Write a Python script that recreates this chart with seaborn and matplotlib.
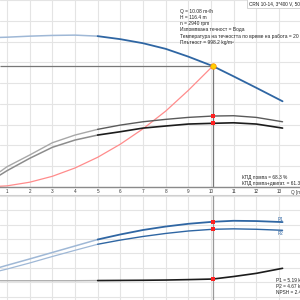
import matplotlib
matplotlib.use("Agg")
from matplotlib import pyplot as plt
import seaborn as sns
import pandas as pd

# flow points [m3/h] shared by all pump curves
q = [0.69, 1, 2, 3, 4, 5, 6, 7, 8, 9, 10.08, 11, 12, 13.16]
head = [144.0, 144.2, 145.2, 145.9, 146.2, 145.2, 142.3, 138.4, 133.0, 125.5, 116.4, 106.5, 95.5, 82.5]
eta_pump = [14.7, 19.5, 30.8, 42.6, 50.0, 55.5, 59.6, 62.8, 65.1, 67.0, 68.3, 68.6, 67.0, 62.8]
eta_total = [11.5, 15.7, 27.6, 38.2, 45.2, 50.0, 53.2, 56.7, 58.7, 60.6, 61.3, 61.8, 60.6, 56.7]
p1 = [2.03, 2.17, 2.61, 3.06, 3.51, 3.96, 4.31, 4.62, 4.86, 5.05, 5.19, 5.26, 5.24, 5.17]
p2 = [1.79, 1.91, 2.33, 2.78, 3.21, 3.63, 3.92, 4.17, 4.38, 4.55, 4.67, 4.70, 4.67, 4.60]
npsh = [2.2, 2.2, 2.2, 2.2, 2.2, 2.22, 2.24, 2.26, 2.29, 2.35, 2.43, 2.78, 3.22, 3.92]

# system curve
q_sys = [0, 1, 2, 3, 4, 5, 6, 7, 8, 9, 10.08]
h_sys = [0, 1.1, 4.6, 10.3, 18.3, 28.6, 41.2, 56.0, 73.0, 93.0, 116.4]

q_op = 10.08
h_op = 116.4
eta_pump_op = 68.3
eta_total_op = 61.3
p1_op = 5.19
p2_op = 4.67
npsh_op = 2.43

q_ticks = list(range(1, 14))

info_lines = [
    "Q = 10.08 m³/h",
    "H = 116.4 m",
    "n = 2940 rpm",
    "Изпомпвана течност = Вода",
    "Температура на течността по време на работа = 20 °C",
    "Плътност = 998.2 kg/m³",
]

sns.set_style("white")
plt.rcParams["font.family"] = ["Liberation Sans", "DejaVu Sans"]

df = pd.DataFrame({"q": q, "head": head, "eta_pump": eta_pump, "eta_total": eta_total,
                   "p1": p1, "p2": p2, "npsh": npsh})
df["npsh_plot"] = df["npsh"] / 2  # NPSH scale is 2 m per grid step
left = df[df["q"] <= 5]
right = df[df["q"] >= 5]

fig = plt.figure(figsize=(3, 3), dpi=100)
ax = fig.add_axes([0, 1 - 187 / 300, 1, 187 / 300])
axb = fig.add_axes([0, 0, 1, 105 / 300])

xlim = (0.69, 13.93)
grid_c = "#e4e4e4"
blue = "#2f66a3"
blue_l = "#9fb8d6"

for a in (ax, axb):
    a.set_xlim(*xlim)
    a.set_xticks(q_ticks)
    a.grid(True, color=grid_c, lw=0.8)
    a.set_axisbelow(True)
    for s in a.spines.values():
        s.set_visible(False)
    a.set_yticklabels([])
    a.tick_params(length=0)

ax.set_ylim(0, 180)
ax.set_yticks(range(0, 181, 20))
ax.set_xticklabels([str(t) for t in q_ticks], fontsize=3.3, color="#333333")
ax.tick_params(axis="x", pad=1.2)
ax.spines["bottom"].set_visible(True)
ax.spines["bottom"].set_color("#8a8a8a")
ax.spines["bottom"].set_linewidth(1)
ax.text(13.55, -0.018, "Q [m³/h]", transform=ax.get_xaxis_transform(), fontsize=3.3,
        color="#333333", va="top")

axb.set_ylim(-0.24, 7.05)
axb.set_yticks(range(0, 8))
axb.set_xticklabels([])
axb.spines["top"].set_visible(True)
axb.spines["top"].set_color("#cfcfcf")

# top: head, system curve, efficiency
sns.lineplot(x=q_sys, y=h_sys, ax=ax, color="#ff8c8c", lw=0.9)
sns.lineplot(data=left, x="q", y="head", ax=ax, color=blue_l, lw=1.1)
sns.lineplot(data=right, x="q", y="head", ax=ax, color=blue, lw=1.3)
sns.lineplot(data=left, x="q", y="eta_pump", ax=ax, color="#a8a8a8", lw=1.0)
sns.lineplot(data=right, x="q", y="eta_pump", ax=ax, color="#5a5a5a", lw=1.0)
sns.lineplot(data=left, x="q", y="eta_total", ax=ax, color="#8c8c8c", lw=1.1)
sns.lineplot(data=right, x="q", y="eta_total", ax=ax, color="#1c1c1c", lw=1.2)

ax.hlines(h_op, xlim[0], q_op, color="#777777", lw=0.9, zorder=2)
ax.vlines(q_op, 0, h_op, color="#777777", lw=0.9, zorder=2)
sns.scatterplot(x=[q_op, q_op], y=[eta_pump_op, eta_total_op], ax=ax, marker="s",
                color="#ff2020", s=7, linewidth=0, zorder=5)
sns.scatterplot(x=[q_op], y=[h_op], ax=ax, color="#ffd000", edgecolor="#ff8c00",
                s=16, linewidth=0.5, zorder=6)

for i, line in enumerate(info_lines):
    ax.text(180 / 300, 1 - (11 + 6.3 * i) / 187, line, transform=ax.transAxes,
            fontsize=3.5, color="#222222", va="center", clip_on=False)
ax.text(249 / 300, 1 - 3.5 / 187, "CRN 10-14, 3*400 V, 50Hz", transform=ax.transAxes,
        fontsize=3.4, color="#222222", va="center",
        bbox=dict(boxstyle="square,pad=0.35", fc="white", ec="#cccccc", lw=0.6))
ax.text(242 / 300, 1 - 177 / 187, "КПД помпа = 68.3 %", transform=ax.transAxes,
        fontsize=3.4, color="#222222", va="center")
ax.text(242 / 300, 1 - 183 / 187, "КПД помпа+двигат. = 61.3 %", transform=ax.transAxes,
        fontsize=3.4, color="#222222", va="center")

# bottom: power and NPSH
sns.lineplot(data=left, x="q", y="p1", ax=axb, color=blue_l, lw=1.1)
sns.lineplot(data=right, x="q", y="p1", ax=axb, color=blue, lw=1.3)
sns.lineplot(data=left, x="q", y="p2", ax=axb, color=blue_l, lw=0.9)
sns.lineplot(data=right, x="q", y="p2", ax=axb, color=blue, lw=1.0)
sns.lineplot(data=left, x="q", y="npsh_plot", ax=axb, color="#b0b0b0", lw=1.0)
sns.lineplot(data=right, x="q", y="npsh_plot", ax=axb, color="#1c1c1c", lw=1.2)
axb.axvline(q_op, color="#999999", lw=0.9, zorder=2)
sns.scatterplot(x=[q_op] * 3, y=[p1_op, p2_op, npsh_op / 2], ax=axb, marker="s",
                color="#ff2020", s=7, linewidth=0, zorder=5)
axb.text(12.93, 5.38, "P1", fontsize=3.4, color=blue, va="center")
axb.text(12.93, 4.39, "P2", fontsize=3.4, color=blue, va="center")
for i, line in enumerate(["P1 = 5.19 kW", "P2 = 4.67 kW", "NPSH = 2.43 m"]):
    axb.text(276 / 300, 1 - (85 + 6 * i) / 105, line, transform=axb.transAxes,
             fontsize=3.4, color="#222222", va="center")

for a in (ax, axb):
    a.set_xlabel("")
    a.set_ylabel("")

fig.savefig("out.png", dpi=100)
